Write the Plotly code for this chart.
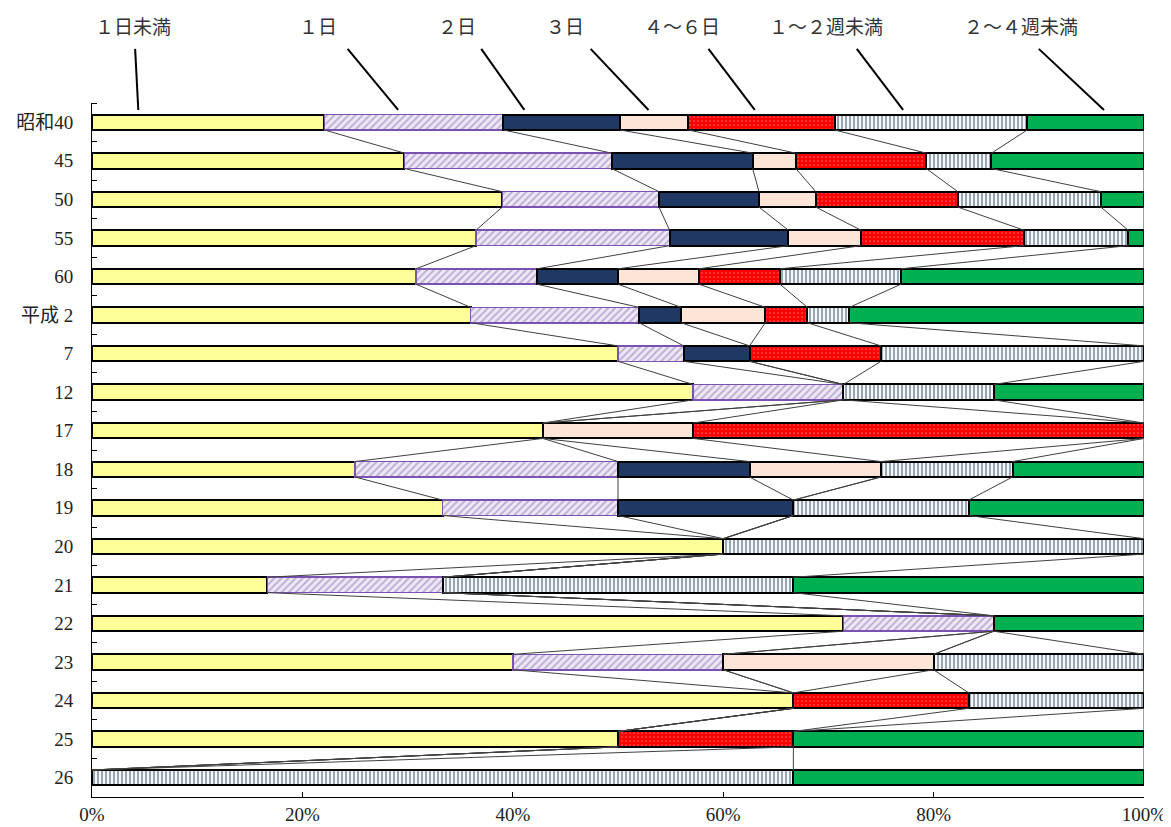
import numpy as np
import plotly.graph_objects as go

# 年次（縦軸の区分）
categories = ["昭和40", "45", "50", "55", "60", "平成 2", "7", "12", "17",
              "18", "19", "20", "21", "22", "23", "24", "25", "26"]

series_names = ["１日未満", "１日", "２日", "３日", "４～６日", "１～２週未満", "２～４週未満"]

# 構成比（%）
under_1day = [22.1, 29.7, 39.0, 36.5, 30.8, 36.0, 50.0, 57.14, 42.86,
              25.0, 33.33, 60.0, 16.67, 71.43, 40.0, 66.67, 50.0, 0]
day_1 = [17.0, 19.7, 14.9, 18.4, 11.5, 16.0, 6.25, 14.29, 0,
         25.0, 16.67, 0, 16.67, 14.29, 20.0, 0, 0, 0]
day_2 = [11.1, 13.4, 9.5, 11.3, 7.7, 4.0, 6.25, 0, 0,
         12.5, 16.67, 0, 0, 0, 0, 0, 0, 0]
day_3 = [6.5, 4.1, 5.4, 6.9, 7.7, 8.0, 0, 0, 14.28,
         12.5, 0, 0, 0, 0, 20.0, 0, 0, 0]
day_4_6 = [13.9, 12.4, 13.5, 15.5, 7.7, 4.0, 12.5, 0, 42.86,
           0, 0, 0, 0, 0, 0, 16.67, 16.67, 0]
week_1_2 = [18.3, 6.2, 13.6, 9.9, 11.5, 4.0, 25.0, 14.29, 0,
            12.5, 16.67, 40.0, 33.33, 0, 20.0, 16.66, 0, 66.67]
week_2_4 = [11.1, 14.5, 4.1, 1.5, 23.1, 28.0, 0, 14.28, 0,
            12.5, 16.66, 0, 33.33, 14.28, 0, 0, 33.33, 33.33]

x_ticks = [0, 20, 40, 60, 80, 100]

all_series = [under_1day, day_1, day_2, day_3, day_4_6, week_1_2, week_2_4]

styles = [
    dict(color="#FFFF99", line=dict(color="black", width=2)),
    dict(color="#E6DDF2", line=dict(color="#7A52B0", width=1.5),
         pattern=dict(shape="/", fgcolor="#8A76B2", bgcolor="#EEE8F6", size=5, solidity=0.4)),
    dict(color="#1F3864", line=dict(color="black", width=2)),
    dict(color="#FCE4D6", line=dict(color="black", width=2)),
    dict(color="#FF0000", line=dict(color="black", width=2),
         pattern=dict(shape=".", fgcolor="#FFD0D0", bgcolor="#FF0000", size=4, solidity=0.15)),
    dict(color="#F2F6FA", line=dict(color="black", width=2),
         pattern=dict(shape="|", fgcolor="#2B3F5C", bgcolor="#F4F8FC", size=4, solidity=0.45)),
    dict(color="#00B050", line=dict(color="black", width=2)),
]

ypos = np.arange(len(categories))
bar_w = 0.4

fig = go.Figure()

# 区分線（各系列の累積端を隣の棒とつなぐ）
cum = np.cumsum(np.array(all_series, dtype=float), axis=0)
lx, ly = [], []
for k in range(cum.shape[0]):
    for i in range(len(categories) - 1):
        lx += [cum[k, i], cum[k, i + 1], None]
        ly += [ypos[i] + bar_w / 2, ypos[i + 1] - bar_w / 2, None]
fig.add_trace(go.Scatter(x=lx, y=ly, mode="lines",
                         line=dict(color="#404040", width=1),
                         hoverinfo="skip", showlegend=False))

for name, vals, st in zip(series_names, all_series, styles):
    fig.add_trace(go.Bar(
        y=ypos, x=vals, name=name, orientation="h", width=bar_w,
        marker=st, showlegend=False,
        hovertemplate=name + ": %{x:.1f}%<extra></extra>"
    ))

# 上部の系列ラベルと引出線（位置は x 軸の%）
labels = [
    ("１日未満", 3.9, 4.1, 4.4),
    ("１日", 21.5, 24.3, 29.1),
    ("２日", 34.7, 37.0, 41.1),
    ("３日", 45.0, 47.4, 52.9),
    ("４～６日", 56.1, 58.6, 63.0),
    ("１～２週未満", 69.8, 72.7, 77.1),
    ("２～４週未満", 88.3, 90.0, 96.2),
]
for text, tx, x0, x1 in labels:
    fig.add_annotation(text=text, x=tx / 100, y=1.111, xref="paper", yref="paper",
                       xanchor="center", yanchor="middle", showarrow=False,
                       font=dict(size=19, color="#333333", family="Noto Sans CJK JP"))
    fig.add_shape(type="line", xref="paper", yref="paper",
                  x0=x0 / 100, y0=1.078, x1=x1 / 100, y1=0.990,
                  line=dict(color="black", width=2))

fig.update_layout(
    width=1163, height=819,
    barmode="stack",
    bargap=0.6,
    plot_bgcolor="white",
    paper_bgcolor="white",
    margin=dict(l=84, r=27, t=95, b=30),
    font=dict(family="Liberation Serif, Noto Sans CJK JP", color="#222222"),
    xaxis=dict(
        range=[0, 100], tickvals=x_ticks, ticktext=[f"{v}%" for v in x_ticks],
        ticks="inside", ticklen=5, tickcolor="black",
        showline=True, linecolor="black", linewidth=1,
        showgrid=False, zeroline=False, automargin=False,
        tickfont=dict(size=19, family="Liberation Serif")
    ),
    yaxis=dict(
        range=[len(categories) - 0.5, -0.5],
        tickvals=list(ypos), ticktext=categories,
        ticks="", showline=True, linecolor="black", linewidth=1,
        showgrid=False, zeroline=False, automargin=False,
        ticklabelstandoff=14,
        tickfont=dict(size=19, family="Liberation Serif, Noto Sans CJK JP"),
        minor=dict(tickvals=list(ypos[:-1] + 0.5) + [-0.5], ticks="inside",
                   ticklen=5, tickcolor="black", showgrid=False)
    ),
)

fig.write_html("out.html")
